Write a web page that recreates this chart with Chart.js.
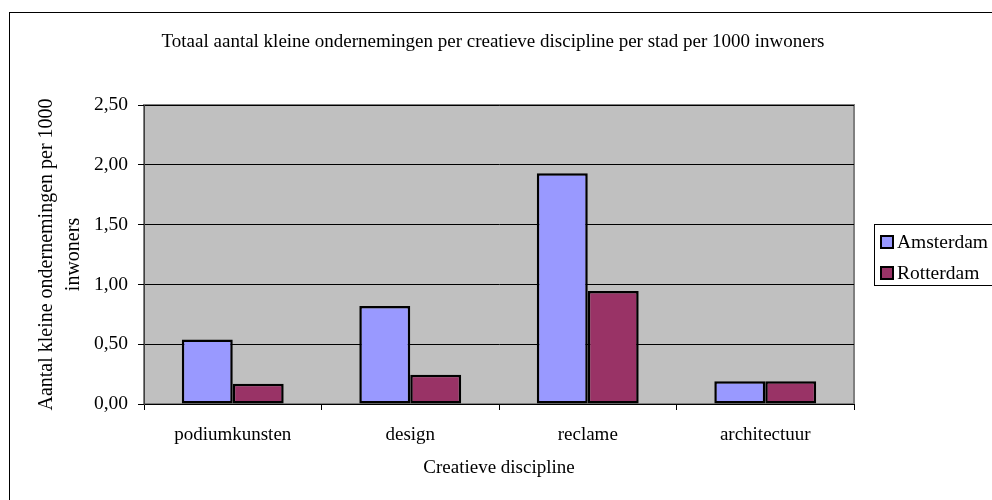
<!DOCTYPE html>
<html lang="nl">
<head>
<meta charset="utf-8">
<title>Kleine ondernemingen per creatieve discipline</title>
<script src="https://cdn.jsdelivr.net/npm/chart.js@4.4.1/dist/chart.umd.min.js"></script>
<style>
  html, body { margin: 0; padding: 0; background: #fff; }
  #wrap { width: 992px; height: 500px; position: relative; }
</style>
</head>
<body>
<div id="wrap"><canvas id="chart"></canvas></div>
<script>
const DISCIPLINES = ["podiumkunsten", "design", "reclame", "architectuur"];
const AMSTERDAM   = [0.54, 0.82, 1.93, 0.19];
const ROTTERDAM   = [0.17, 0.245, 0.945, 0.19];
const Y_TICKS     = [0, 0.5, 1, 1.5, 2, 2.5];

const TITLE   = "Totaal aantal kleine ondernemingen per creatieve discipline per stad per 1000 inwoners";
const FONT    = "'Liberation Serif', 'Times New Roman', serif";
const INK     = "#000";

const fmt = (v) => v.toFixed(2).replace(".", ",");

// frame, plot background, title and the boxed legend on the right
const decor = {
  id: "decor",
  beforeDraw(chart){
    const { ctx, chartArea: a } = chart;
    ctx.save();
    ctx.fillStyle = "#fff";
    ctx.fillRect(0, 0, chart.width, chart.height);

    ctx.strokeStyle = INK;
    ctx.lineWidth = 1;
    ctx.strokeRect(9.5, 12.5, chart.width + 20, chart.height + 20);

    ctx.fillStyle = "#c0c0c0";
    ctx.fillRect(a.left, a.top, a.right - a.left, a.bottom - a.top);
    ctx.strokeStyle = "#808080";
    ctx.lineWidth = 2;
    ctx.strokeRect(a.left, a.top, a.right - a.left, a.bottom - a.top);
    ctx.restore();
  },
  afterDraw(chart){
    const { ctx } = chart;
    ctx.save();
    ctx.fillStyle = INK;
    ctx.font = `19px ${FONT}`;
    ctx.textAlign = "center";
    ctx.textBaseline = "middle";
    ctx.fillText(TITLE, 493, 42);

    // legend
    ctx.fillStyle = "#fff";
    ctx.fillRect(874, 224, 130, 61);
    ctx.strokeStyle = INK;
    ctx.lineWidth = 1;
    ctx.strokeRect(874.5, 224.5, 130, 61);

    ctx.font = `19.5px ${FONT}`;
    ctx.textAlign = "left";
    chart.data.datasets.forEach((ds, i) => {
      const cy = 242 + i * 31;
      ctx.fillStyle = ds.backgroundColor;
      ctx.fillRect(881, cy - 6, 12, 12);
      ctx.strokeStyle = INK;
      ctx.lineWidth = 2;
      ctx.strokeRect(881, cy - 6, 12, 12);
      ctx.fillStyle = INK;
      ctx.fillText(ds.label, 897, cy + 1);
    });
    ctx.restore();
  }
};

new Chart(document.getElementById("chart"), {
  type: "bar",
  data: {
    labels: DISCIPLINES,
    datasets: [
      { label: "Amsterdam", data: AMSTERDAM, backgroundColor: "#9999ff" },
      { label: "Rotterdam", data: ROTTERDAM, backgroundColor: "#993366" }
    ].map((d) => ({
      ...d,
      borderColor: INK,
      borderWidth: 2.5,
      borderSkipped: false,
      categoryPercentage: 0.574,
      barPercentage: 1
    }))
  },
  options: {
    responsive: true,
    maintainAspectRatio: false,
    animation: false,
    devicePixelRatio: 1,
    layout: { padding: { top: 105, right: 138, bottom: 0, left: 0 } },
    plugins: {
      legend: { display: false },
      title: { display: false },
      tooltip: { enabled: false }
    },
    scales: {
      x: {
        afterFit: (s) => { s.height = 96; },
        grid: { drawOnChartArea: false, drawTicks: true, tickLength: 6, color: INK, offset: true },
        border: { color: INK, width: 1 },
        ticks: { color: INK, padding: 14, font: { family: FONT, size: 19 } },
        title: {
          display: true,
          text: "Creatieve discipline",
          color: INK,
          font: { family: FONT, size: 19 },
          padding: { top: 0, bottom: 21 }
        }
      },
      y: {
        min: 0,
        max: 2.5,
        afterFit: (s) => { s.width = 144; },
        afterBuildTicks: (s) => { s.ticks = Y_TICKS.map((v) => ({ value: v })); },
        grid: { color: INK, lineWidth: 1, tickLength: 6 },
        border: { color: "#404040", width: 1 },
        ticks: { color: INK, padding: 10, font: { family: FONT, size: 19.5 }, callback: (v) => fmt(v) },
        title: {
          display: true,
          text: ["Aantal kleine ondernemingen per 1000", "inwoners"],
          color: INK,
          font: { family: FONT, size: 20, lineHeight: "27px" },
          padding: { top: 33, bottom: 0 }
        }
      }
    }
  },
  plugins: [decor]
});
</script>
</body>
</html>
